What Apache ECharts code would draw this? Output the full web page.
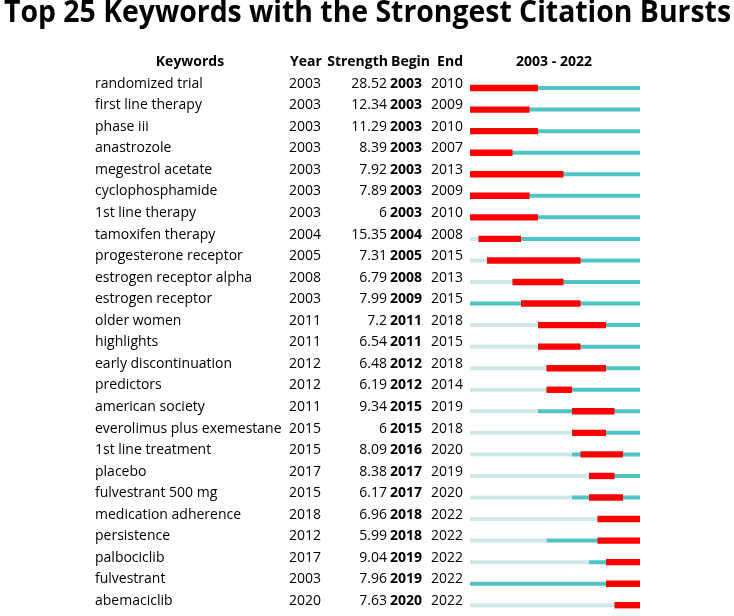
<!DOCTYPE html>
<html>
<head>
<meta charset="utf-8">
<title>Citation Bursts</title>
<script src="https://cdn.jsdelivr.net/npm/echarts@6/dist/echarts.min.js"></script>
<style>
  html, body { margin: 0; padding: 0; background: #fff; }
  #main { width: 734px; height: 616px; }
</style>
</head>
<body>
<div id="main"></div>
<script type="text/javascript">
var keywords = ['randomized trial', 'first line therapy', 'phase iii', 'anastrozole', 'megestrol acetate',
    'cyclophosphamide', '1st line therapy', 'tamoxifen therapy', 'progesterone receptor', 'estrogen receptor alpha',
    'estrogen receptor', 'older women', 'highlights', 'early discontinuation', 'predictors',
    'american society', 'everolimus plus exemestane', '1st line treatment', 'placebo', 'fulvestrant 500 mg',
    'medication adherence', 'persistence', 'palbociclib', 'fulvestrant', 'abemaciclib'];
var years = [2003, 2003, 2003, 2003, 2003, 2003, 2003, 2004, 2005, 2008, 2003, 2011, 2011, 2012, 2012,
    2011, 2015, 2015, 2017, 2015, 2018, 2012, 2017, 2003, 2020];
var strengths = [28.52, 12.34, 11.29, 8.39, 7.92, 7.89, 6, 15.35, 7.31, 6.79, 7.99, 7.2, 6.54, 6.48, 6.19,
    9.34, 6, 8.09, 8.38, 6.17, 6.96, 5.99, 9.04, 7.96, 7.63];
var begins = [2003, 2003, 2003, 2003, 2003, 2003, 2003, 2004, 2005, 2008, 2009, 2011, 2011, 2012, 2012,
    2015, 2015, 2016, 2017, 2017, 2018, 2018, 2019, 2019, 2020];
var ends = [2010, 2009, 2010, 2007, 2013, 2009, 2010, 2008, 2015, 2013, 2015, 2018, 2015, 2018, 2014,
    2019, 2018, 2020, 2019, 2020, 2022, 2022, 2022, 2022, 2022];
var firstYear = 2003, lastYear = 2022;

var titleText = 'Top 25 Keywords with the Strongest Citation Bursts';
var FONT = '"Open Sans", "Noto Sans", sans-serif';

// squeeze the title to the width of the original
var ctx = document.createElement('canvas').getContext('2d');
ctx.font = 'bold 30px "Open Sans"';
var titleScale = 727 / ctx.measureText(titleText).width;

var chart = echarts.init(document.getElementById('main'));

function txt(s, x, y, align, bold) {
    return {
        type: 'text',
        style: {
            text: s, x: x, y: y,
            fill: '#000',
            fontFamily: FONT,
            fontSize: 14,
            fontWeight: bold ? 'bold' : 'normal',
            align: align,
            verticalAlign: 'middle'
        }
    };
}

function renderRow(params, api) {
    var i = api.value(0);
    var y = api.coord([firstYear, i])[1];
    var x0 = api.coord([firstYear, i])[0];
    var xYear = api.coord([years[i], i])[0];
    var xEnd = api.coord([lastYear + 1, i])[0];
    var xb = api.coord([begins[i], i])[0];
    var xe = api.coord([ends[i] + 1, i])[0];
    var ty = y - 4.3;
    var kids = [];
    if (xYear > x0) {
        kids.push({ type: 'rect', shape: { x: x0, y: y - 2, width: xYear - x0, height: 4 },
            style: { fill: '#cfe9ea' } });
    }
    kids.push({ type: 'rect', shape: { x: xYear, y: y - 2, width: xEnd - xYear, height: 4 },
        style: { fill: '#4fc4c4' } });
    kids.push({ type: 'rect', shape: { x: xb, y: y - 3.2, width: xe - xb, height: 6.4 },
        style: { fill: '#ff0000' } });
    kids.push(txt(keywords[i], 95, ty, 'left'));
    kids.push(txt(String(years[i]), 289, ty, 'left'));
    kids.push(txt(String(strengths[i]), 387, ty, 'right'));
    kids.push(txt(String(begins[i]), 390, ty, 'left', true));
    kids.push(txt(String(ends[i]), 463, ty, 'right'));
    return { type: 'group', children: kids };
}

var rows = [];
for (var i = 0; i < keywords.length; i++) rows.push([i]);

function head(s, x, align) {
    return {
        type: 'text', x: x, y: 62,
        style: { text: s, fill: '#000', fontFamily: FONT, fontSize: 14, fontWeight: 'bold',
            align: align, verticalAlign: 'middle' }
    };
}

var option = {
    animation: false,
    backgroundColor: '#fff',
    grid: { left: 470, width: 170, top: 77.3, height: 546 },
    xAxis: { type: 'value', min: firstYear, max: lastYear + 1, show: false },
    yAxis: { type: 'category', data: keywords, inverse: true, show: false },
    graphic: [
        {
            type: 'text', x: 367.5, y: 13.5, scaleX: titleScale,
            style: { text: titleText, fill: '#000', fontFamily: FONT, fontSize: 30, fontWeight: 'bold',
                align: 'center', verticalAlign: 'middle' }
        },
        head('Keywords', 190, 'center'),
        head('Year', 290, 'left'),
        head('Strength', 388, 'right'),
        head('Begin', 391, 'left'),
        head('End', 463, 'right'),
        head(firstYear + ' - ' + lastYear, 554, 'center')
    ],
    series: [{
        type: 'custom',
        renderItem: renderRow,
        data: rows,
        encode: { y: 0 },
        clip: false
    }]
};
chart.setOption(option);
</script>
</body>
</html>
